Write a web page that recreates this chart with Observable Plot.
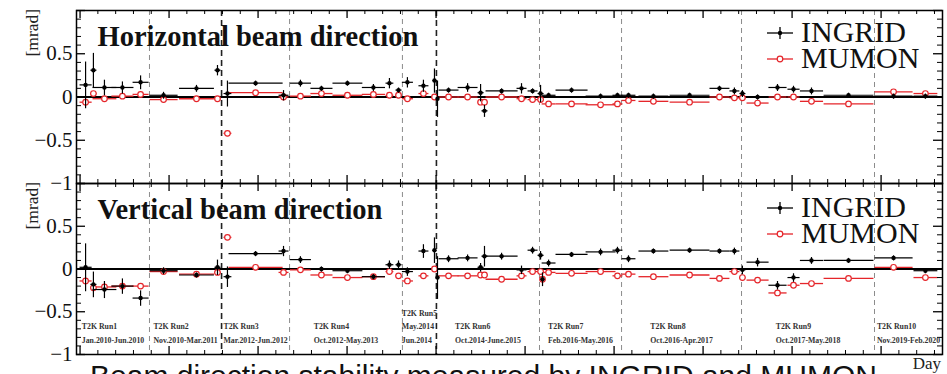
<!DOCTYPE html>
<html><head><meta charset="utf-8">
<script src="https://cdn.jsdelivr.net/npm/d3@7"></script>
<script src="https://cdn.jsdelivr.net/npm/@observablehq/plot@0.6"></script>
<style>
body{margin:0;background:#fff;}
#wrap{position:relative;width:947px;height:374px;overflow:hidden;background:#fff;font-family:"Liberation Serif",serif;}
#wrap > svg{position:absolute;left:0;}
</style></head><body><div id="wrap"></div>
<script>
// ---- data (x in days, y in mrad) ----
const day = [31,75,137,238,340,469,654,772,828,986,1143,1238,1356,1502,1648,1738,1789,1839,1929,1991,2008,2070,2177,2250,2272,2368,2480,2542,2587,2598,2632,2761,2924,3019,3081,3221,3424,3592,3676,3721,3806,3918,4008,4109,4317,4570,4749];
const dayErr = [34,17,67,62,45,79,98,17,22,152,28,59,62,84,65,22,17,31,28,11,6,56,56,17,17,90,28,28,17,11,39,90,84,28,39,84,112,56,28,17,62,51,34,65,140,107,67];

const hIngrid = [0.14,0.31,0.11,0.11,0.17,0.02,0.10,0.31,0.04,0.16,0.02,0.16,0.10,0.16,0.11,0.16,0.08,0.17,0.13,0.19,-0.02,0.08,0.11,0.05,-0.16,0.07,0.10,0.07,0.04,null,0.02,0.08,0.01,0.02,0.02,0.01,0.02,0.10,0.07,0.04,0.00,0.11,0.09,0.07,0.02,0.01,0.01];
const hIngridErr = [0.27,0.2,0.09,0.07,0.08,0.04,0.04,0.06,0.15,0.03,0.06,0.04,0.03,0.03,0.04,0.06,0.03,0.06,0.07,0.14,0.21,0.03,0.05,0.1,0.07,0.03,0.06,0.03,0.1,null,0.03,0.03,0.03,0.03,0.03,0.03,0.03,0.03,0.04,0.04,0.03,0.04,0.04,0.04,0.03,0.03,0.03];
const hMumon = [-0.06,0.04,-0.02,0.01,0.03,-0.03,-0.02,-0.02,-0.42,0.05,0.0,0.01,0.04,0.02,0.03,0.02,0.02,-0.02,0.04,0.0,null,0.0,0.0,-0.06,-0.06,0.0,-0.02,-0.03,-0.03,null,-0.08,-0.08,-0.09,-0.08,-0.04,-0.05,-0.06,0.0,-0.01,-0.01,-0.07,0.0,0.0,-0.05,-0.08,0.06,0.04];

const vIngrid = [0.02,-0.18,-0.24,-0.20,-0.34,-0.02,-0.07,0.02,-0.09,0.18,0.21,0.11,0.0,-0.02,-0.09,0.05,0.05,-0.03,0.21,0.22,-0.10,0.12,0.13,0.02,0.15,0.15,-0.01,0.22,0.16,-0.12,0.07,0.17,0.20,0.22,0.12,0.21,0.22,0.21,0.21,-0.01,0.08,-0.19,-0.10,0.10,0.10,0.13,-0.02];
const vIngridErr = [0.28,0.15,0.1,0.09,0.09,0.04,0.03,0.09,0.12,0.03,0.06,0.04,0.03,0.03,0.03,0.05,0.05,0.05,0.08,0.15,0.25,0.04,0.04,0.05,0.12,0.04,0.05,0.04,0.05,0.08,0.04,0.03,0.04,0.04,0.04,0.03,0.03,0.03,0.04,0.05,0.05,0.05,0.05,0.04,0.03,0.03,0.03];
const vMumon = [-0.14,-0.22,-0.21,-0.20,-0.20,-0.03,-0.06,-0.04,0.37,0.02,-0.04,-0.01,-0.07,-0.10,-0.09,-0.03,-0.08,-0.14,-0.08,0.0,null,-0.08,-0.08,-0.07,-0.07,-0.12,-0.08,-0.03,-0.03,-0.12,-0.04,-0.05,-0.03,-0.08,-0.06,-0.09,-0.07,-0.11,-0.03,-0.10,-0.13,-0.28,-0.19,-0.17,-0.11,0.02,-0.10];

const runBounds = [390,1177,1811,2581,3042,3716,4463];
const breakBounds = [795,2002];
const runEdges = [-20,390,795,1177,1811,2002,2581,3042,3716,4463,4845];
const runNames = ["T2K Run1","T2K Run2","T2K Run3","T2K Run4","T2K Run5","T2K Run6","T2K Run7","T2K Run8","T2K Run9","T2K Run10"];
const runPeriods = ["Jan.2010-Jun.2010","Nov.2010-Mar.2011","Mar.2012-Jun.2012","Oct.2012-May.2013","May.2014\nJun.2014","Oct.2014-June.2015","Feb.2016-May.2016","Oct.2016-Apr.2017","Oct.2017-May.2018","Nov.2019-Feb.2020"];
const yTickLabels = [-1,-0.5,0,0.5];
const caption = "Beam direction stability measured by INGRID and MUMON";

// ---- drawing ----
const FONT = "Liberation Serif";
const RED = "#e5252a";
const X_DOMAIN = [-20, 4845];
const ML = 76, MR = 5, W = 947 - ML - MR;
const pxPerDay = W / (X_DOMAIN[1] - X_DOMAIN[0]);
const xMajor = d3.range(0, X_DOMAIN[1], 500);
const xMinor = d3.range(0, X_DOMAIN[1], 100).filter(d => d % 500 !== 0);
const yMajor = [-1,-0.5,0,0.5,1];
const yMinor = d3.range(-10, 11).map(d => d / 10).filter(d => Math.abs(d * 2 - Math.round(d * 2)) > 1e-9);
const fmt = d => (d < 0 ? "\u2212" : "") + String(Math.abs(d));

const ctx = document.createElement("canvas").getContext("2d");
ctx.font = `bold 7.8px "${FONT}"`;
const runLabels = runNames.map((n, i) => {
  const text = n + "\n" + runPeriods[i];
  const wpx = d3.max(text.split("\n"), s => ctx.measureText(s).width);
  const center = (runEdges[i] + runEdges[i + 1]) / 2;
  return {x: center - wpx / 2 / pxPerDay, text};
});

function panel({ing, ingErr, mum, title, height, mt, mb, runs}) {
  const H = height - mt - mb;
  const rows = day.map((d, i) => ({d, e: dayErr[i], ing: ing[i], ie: ingErr[i], mum: mum[i]}));
  const ingRows = rows.filter(r => r.ing != null);
  const mumRows = rows.filter(r => r.mum != null);
  const marks = [
    Plot.ruleX(runBounds, {x: d => d, stroke: "#8c8c8c", strokeWidth: 1, strokeDasharray: "5,4"}),
    Plot.ruleX(breakBounds, {x: d => d, stroke: "#222", strokeWidth: 1.6, strokeDasharray: "6,4"}),
    Plot.ruleY([0], {y: d => d, stroke: "#000", strokeWidth: 2.2}),
    Plot.link(mumRows, {x1: r => r.d - r.e, x2: r => r.d + r.e, y1: "mum", y2: "mum", stroke: RED, strokeWidth: 1.3}),
    Plot.dot(mumRows, {x: "d", y: "mum", r: 2.8, stroke: RED, fill: "white", strokeWidth: 1.2}),
    Plot.link(ingRows, {x1: r => r.d - r.e, x2: r => r.d + r.e, y1: "ing", y2: "ing", stroke: "#000", strokeWidth: 1.2}),
    Plot.link(ingRows, {x1: "d", x2: "d", y1: r => r.ing - r.ie, y2: r => r.ing + r.ie, stroke: "#000", strokeWidth: 1.2}),
    Plot.dot(ingRows, {x: "d", y: "ing", r: 2.2, fill: "#000"}),
    Plot.frame({stroke: "#000", strokeWidth: 1.5}),
    Plot.tickX(xMajor, {x: d => d, insetBottom: H - 8, stroke: "#000", strokeWidth: 1.3}),
    Plot.tickX(xMinor, {x: d => d, insetBottom: H - 4, stroke: "#000", strokeWidth: 1}),
    Plot.tickX(xMajor, {x: d => d, insetTop: H - 8, stroke: "#000", strokeWidth: 1.3}),
    Plot.tickX(xMinor, {x: d => d, insetTop: H - 4, stroke: "#000", strokeWidth: 1}),
    Plot.tickY(yMajor, {y: d => d, insetRight: W - 9, stroke: "#000", strokeWidth: 1.3}),
    Plot.tickY(yMinor, {y: d => d, insetRight: W - 5, stroke: "#000", strokeWidth: 1}),
    Plot.tickY(yMajor, {y: d => d, insetLeft: W - 9, stroke: "#000", strokeWidth: 1.3}),
    Plot.tickY(yMinor, {y: d => d, insetLeft: W - 5, stroke: "#000", strokeWidth: 1}),
    Plot.axisY({ticks: yTickLabels, tickSize: 0, tickPadding: 4, fontSize: 21, label: null, tickFormat: fmt}),
    Plot.text([title], {frameAnchor: "top-left", dx: 21, dy: 35, lineAnchor: "bottom", textAnchor: "start", fontSize: 28.5, fontWeight: "bold", fill: "#111"}),
    Plot.text(["[mrad]"], {frameAnchor: "top-left", dx: -51, dy: 46, rotate: -90, fontSize: 17.5, fill: "#222"})
  ];
  if (runs) {
    marks.push(Plot.text(runLabels, {x: "x", text: "text", frameAnchor: "bottom", dy: -12, lineAnchor: "bottom", lineHeight: 1.73, textAnchor: "start", fontSize: 7.8, fontWeight: "bold", fill: "#333"}));
  }
  return Plot.plot({
    width: 947, height, marginLeft: ML, marginRight: MR, marginTop: mt, marginBottom: mb,
    x: {domain: X_DOMAIN, axis: null},
    y: {domain: [-1, 1], axis: null},
    style: {background: "transparent", overflow: "visible", fontFamily: `"${FONT}", serif`, color: "#111"},
    marks
  });
}

const wrap = document.getElementById("wrap");
const top1 = panel({ing: hIngrid, ingErr: hIngridErr, mum: hMumon, title: "Horizontal beam direction", height: 184, mt: 10, mb: 1, runs: false});
top1.style.top = "0px";
const bot1 = panel({ing: vIngrid, ingErr: vIngridErr, mum: vMumon, title: "Vertical beam direction", height: 191, mt: 0, mb: 20, runs: true});
bot1.style.top = "183px";
wrap.appendChild(top1);
wrap.appendChild(bot1);

// legends, axis caption and the (cropped) figure caption
const ov = d3.create("svg").attr("width", 947).attr("height", 374)
  .style("position", "absolute").style("top", "0px").style("left", "0px")
  .attr("font-family", `"${FONT}", serif`);
function legend(y0) {
  const g = ov.append("g");
  g.append("line").attr("x1", 767).attr("x2", 793).attr("y1", y0).attr("y2", y0).attr("stroke", "#000").attr("stroke-width", 1.3);
  g.append("line").attr("x1", 780).attr("x2", 780).attr("y1", y0 - 6).attr("y2", y0 + 6).attr("stroke", "#000").attr("stroke-width", 1.3);
  g.append("circle").attr("cx", 780).attr("cy", y0).attr("r", 2.2).attr("fill", "#000");
  g.append("text").attr("x", 801).attr("y", y0 + 9).attr("font-size", 30).attr("fill", "#111").text("INGRID");
  const y1 = y0 + 26;
  g.append("line").attr("x1", 767).attr("x2", 793).attr("y1", y1).attr("y2", y1).attr("stroke", RED).attr("stroke-width", 1.3);
  g.append("circle").attr("cx", 780).attr("cy", y1).attr("r", 2.8).attr("fill", "white").attr("stroke", RED).attr("stroke-width", 1.2);
  g.append("text").attr("x", 801).attr("y", y1 + 9).attr("font-size", 30).attr("fill", "#111").text("MUMON");
}
legend(33);
legend(208);
ov.append("text").attr("x", 941).attr("y", 369).attr("text-anchor", "end").attr("font-size", 17).attr("fill", "#222").text("Day");
ov.append("text").attr("x", 90).attr("y", 386).attr("font-family", "'Liberation Sans', sans-serif").attr("font-size", 30).attr("fill", "#111").text(caption);
wrap.appendChild(ov.node());
</script></body></html>
